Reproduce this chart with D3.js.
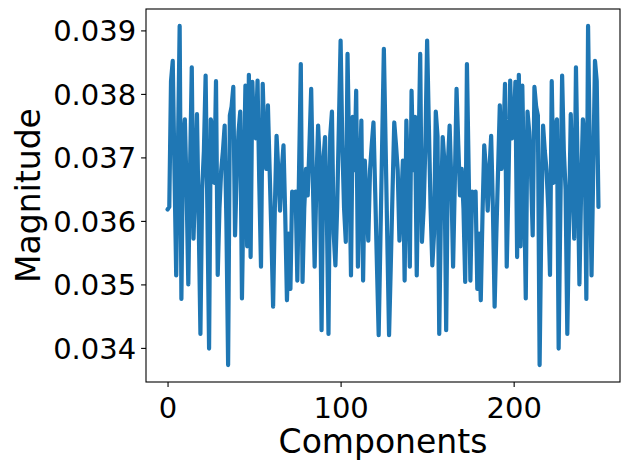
<!DOCTYPE html>
<html>
<head>
<meta charset="utf-8">
<script src="https://cdn.jsdelivr.net/npm/d3@7"></script>
<style>
    body { margin: 0; background: white; }
    text { font-family: "DejaVu Sans", sans-serif; }
</style>
</head>
<body>
<div id="chart"></div>
<script>
// magnitude per component (spectrum is mirror-symmetric about 125)
const magnitude = [
    0.03618, 0.03622, 0.03820, 0.03852, 0.03680, 0.03514, 0.03710, 0.03907, 0.03477, 0.03730,
    0.03760, 0.03650, 0.03500, 0.03680, 0.03842, 0.03572, 0.03660, 0.03768, 0.03600, 0.03422,
    0.03650, 0.03710, 0.03829, 0.03620, 0.03399, 0.03760, 0.03745, 0.03660, 0.03820, 0.03515,
    0.03620, 0.03680, 0.03710, 0.03750, 0.03600, 0.03373, 0.03766, 0.03780, 0.03811, 0.03577,
    0.03680, 0.03740, 0.03772, 0.03478, 0.03660, 0.03813, 0.03560, 0.03830, 0.03543, 0.03819,
    0.03734, 0.03730, 0.03821, 0.03660, 0.03528, 0.03816, 0.03720, 0.03682, 0.03782, 0.03680,
    0.03580, 0.03465, 0.03620, 0.03734, 0.03680, 0.03616, 0.03680, 0.03719, 0.03610, 0.03475,
    0.03580, 0.03493, 0.03646, 0.03620, 0.03646, 0.03506, 0.03680, 0.03847, 0.03504, 0.03620,
    0.03682, 0.03640, 0.03720, 0.03808, 0.03660, 0.03528, 0.03660, 0.03750, 0.03690, 0.03428,
    0.03693, 0.03732, 0.03620, 0.03422, 0.03734, 0.03772, 0.03580, 0.03530, 0.03620, 0.03750,
    0.03884, 0.03720, 0.03620, 0.03567, 0.03863, 0.03700, 0.03514, 0.03764, 0.03680, 0.03805,
    0.03528, 0.03660, 0.03758, 0.03506, 0.03695, 0.03630, 0.03569, 0.03680, 0.03720, 0.03755,
    0.03645, 0.03530, 0.03420, 0.03570, 0.03720, 0.03871,
    0.03720, 0.03570, 0.03420, 0.03530, 0.03645, 0.03755, 0.03720, 0.03680, 0.03569, 0.03630,
    0.03695, 0.03506, 0.03758, 0.03660, 0.03528, 0.03805, 0.03680, 0.03764, 0.03514, 0.03700,
    0.03863, 0.03567, 0.03620, 0.03720, 0.03884, 0.03750, 0.03620, 0.03530, 0.03580, 0.03772,
    0.03734, 0.03422, 0.03620, 0.03732, 0.03693, 0.03428, 0.03690, 0.03750, 0.03660, 0.03528,
    0.03660, 0.03808, 0.03720, 0.03640, 0.03682, 0.03620, 0.03504, 0.03847, 0.03680, 0.03506,
    0.03646, 0.03620, 0.03646, 0.03493, 0.03580, 0.03475, 0.03610, 0.03719, 0.03680, 0.03616,
    0.03680, 0.03734, 0.03620, 0.03465, 0.03580, 0.03680, 0.03782, 0.03682, 0.03720, 0.03816,
    0.03528, 0.03660, 0.03821, 0.03730, 0.03734, 0.03819, 0.03543, 0.03830, 0.03560, 0.03813,
    0.03660, 0.03478, 0.03772, 0.03740, 0.03680, 0.03577, 0.03811, 0.03780, 0.03766, 0.03373,
    0.03600, 0.03750, 0.03710, 0.03680, 0.03620, 0.03515, 0.03820, 0.03660, 0.03745, 0.03760,
    0.03399, 0.03620, 0.03829, 0.03710, 0.03650, 0.03422, 0.03600, 0.03768, 0.03660, 0.03572,
    0.03842, 0.03680, 0.03500, 0.03650, 0.03760, 0.03730, 0.03477, 0.03907, 0.03710, 0.03514,
    0.03680, 0.03852, 0.03820, 0.03622
];
const components = d3.range(magnitude.length);

const xTicks = [0, 100, 200];
const yTicks = [0.034, 0.035, 0.036, 0.037, 0.038, 0.039];
const xLabel = "Components";
const yLabel = "Magnitude";

const width = 630, height = 469;
const margin = { top: 9, right: 10, bottom: 87, left: 146 };
const innerW = width - margin.left - margin.right;
const innerH = height - margin.top - margin.bottom;

// matplotlib-like 5% padding around the data
function padded(extent) {
    const pad = (extent[1] - extent[0]) * 0.05;
    return [extent[0] - pad, extent[1] + pad];
}

const xScale = d3.scaleLinear()
    .domain(padded(d3.extent(components)))
    .range([0, innerW]);

const yScale = d3.scaleLinear()
    .domain(padded(d3.extent(magnitude)))
    .range([innerH, 0]);

const svg = d3.select("#chart")
    .append("svg")
    .attr("width", width)
    .attr("height", height);

const g = svg.append("g")
    .attr("transform", `translate(${margin.left},${margin.top})`);

// clip so the thick line stays in the frame
g.append("clipPath").attr("id", "plotClip")
    .append("rect")
    .attr("width", innerW).attr("height", innerH);

const line = d3.line()
    .x((d, i) => xScale(components[i]))
    .y(d => yScale(d));

g.append("path")
    .datum(magnitude)
    .attr("clip-path", "url(#plotClip)")
    .attr("fill", "none")
    .attr("stroke", "#1f77b4")
    .attr("stroke-width", 4.2)
    .attr("stroke-linejoin", "round")
    .attr("stroke-linecap", "round")
    .attr("d", line);

// axes
const xAxis = g.append("g")
    .attr("transform", `translate(0,${innerH})`)
    .call(d3.axisBottom(xScale).tickValues(xTicks).tickSize(4.9).tickPadding(4).tickFormat(d3.format("d")));

const yAxis = g.append("g")
    .call(d3.axisLeft(yScale).tickValues(yTicks).tickSize(4.9).tickPadding(4.9).tickFormat(d3.format(".3f")));

[xAxis, yAxis].forEach(ax => {
    ax.select(".domain").remove();
    ax.selectAll(".tick line").attr("stroke", "black").attr("stroke-width", 1.1);
    ax.selectAll(".tick text")
        .attr("fill", "black")
        .style("font-size", "29px");
});
xAxis.selectAll(".tick text").attr("dy", "0.92em");
yAxis.selectAll(".tick text").attr("dy", "0.36em");

// frame
g.append("rect")
    .attr("width", innerW)
    .attr("height", innerH)
    .attr("fill", "none")
    .attr("stroke", "black")
    .attr("stroke-width", 1.1);

// axis labels
svg.append("text")
    .attr("x", margin.left + innerW / 2)
    .attr("y", 453)
    .attr("text-anchor", "middle")
    .style("font-size", "33px")
    .text(xLabel);

svg.append("text")
    .attr("transform", `translate(40,${margin.top + innerH / 2}) rotate(-90)`)
    .attr("text-anchor", "middle")
    .style("font-size", "33px")
    .text(yLabel);
</script>
</body>
</html>
